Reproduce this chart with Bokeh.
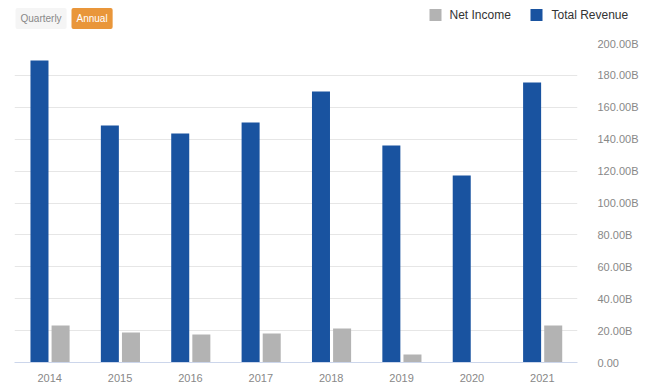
from bokeh.plotting import figure
from bokeh.layouts import column
from bokeh.models import FactorRange, Range1d, Label, ColumnDataSource
from bokeh.transform import dodge
from bokeh.embed import file_html
from bokeh.resources import INLINE

years = ["2014", "2015", "2016", "2017", "2018", "2019", "2020", "2021"]
total_revenue = [189.3, 148.6, 143.6, 150.5, 169.9, 136.1, 117.2, 175.5]
net_income = [23.2, 18.8, 17.6, 18.2, 21.3, 5.0, 0.0, 23.2]
y_ticks = [0, 20, 40, 60, 80, 100, 120, 140, 160, 180, 200]
y_tick_labels = ["0.00", "20.00B", "40.00B", "60.00B", "80.00B", "100.00B",
                 "120.00B", "140.00B", "160.00B", "180.00B", "200.00B"]
series_names = ["Net Income", "Total Revenue"]
period_buttons = ["Quarterly", "Annual"]

FONT = "Liberation Sans"
BLUE = "#1953a0"
GRAY = "#b3b3b3"
W = 659
FRAME_L, FRAME_R = 14, 577

src = ColumnDataSource(dict(year=years, rev=total_revenue, ni=net_income))

# ---- header (period buttons + legend); 1 data unit = 1 page pixel ----
HEAD_H = 30
head = figure(width=W, height=HEAD_H, x_range=Range1d(0, W), y_range=Range1d(0, HEAD_H),
              x_axis_location=None, y_axis_location=None,
              toolbar_location=None, output_backend="svg",
              min_border_left=0, min_border_right=0, min_border_top=0, min_border_bottom=0)
head.frame_align = False
head.grid.visible = False
head.outline_line_color = None

legend_key_x = [435, 536]
legend_text_x = [449, 551]
legend_colors = [GRAY, BLUE]
LEG_Y = HEAD_H - 14.5
head.rect(x=legend_key_x, y=[LEG_Y] * 2, width=12, height=12,
          color=legend_colors, line_color=None)
for tx, name in zip(legend_text_x, series_names):
    head.add_layout(Label(x=tx, y=LEG_Y, text=name, text_font=FONT,
                          text_font_size="12px", text_color="#333333",
                          text_baseline="middle", text_align="left"))

BTN_Y = HEAD_H - 18
head.add_layout(Label(x=15, y=BTN_Y, text=period_buttons[0],
                      text_font=FONT, text_font_size="10px", text_color="#888888",
                      text_baseline="middle", text_align="left",
                      background_fill_color="#f5f5f5", padding=5, border_radius=2))
head.add_layout(Label(x=71, y=BTN_Y, text=period_buttons[1],
                      text_font=FONT, text_font_size="10px", text_color="#ffffff",
                      text_baseline="middle", text_align="left",
                      background_fill_color="#e9963a", padding=5, border_radius=2))

# ---- main chart ----
p = figure(x_range=FactorRange(*years, range_padding=0), y_range=Range1d(0, 200),
           width=W, height=360, y_axis_location="right",
           toolbar_location=None, output_backend="svg",
           min_border_left=FRAME_L, min_border_right=W - FRAME_R,
           min_border_top=13, min_border_bottom=28)
p.frame_align = False
p.outline_line_color = None

p.vbar(x=dodge("year", -0.145, range=p.x_range), top="rev", width=0.256,
       source=src, color=BLUE, line_color=None)
p.vbar(x=dodge("year", 0.155, range=p.x_range), top="ni", width=0.256,
       source=src, color=GRAY, line_color=None)

p.xgrid.grid_line_color = None
p.ygrid.grid_line_color = "#e6e6e6"

ya = p.yaxis[0]
ya.ticker = y_ticks
ya.major_label_overrides = {t: l for t, l in zip(y_ticks, y_tick_labels)}
ya.axis_line_color = None
ya.major_tick_line_color = None
ya.minor_tick_line_color = None
ya.major_label_standoff = 14
ya.major_label_text_font = FONT
ya.major_label_text_font_size = "11px"
ya.major_label_text_color = "#888888"

xa = p.xaxis[0]
xa.axis_line_color = "#ccd6eb"
xa.major_tick_line_color = None
xa.minor_tick_line_color = None
xa.major_label_standoff = 5
xa.major_label_text_font = FONT
xa.major_label_text_font_size = "11px"
xa.major_label_text_color = "#888888"

layout = column(head, p, spacing=0)
open("out.html", "w").write(file_html(layout, INLINE))
